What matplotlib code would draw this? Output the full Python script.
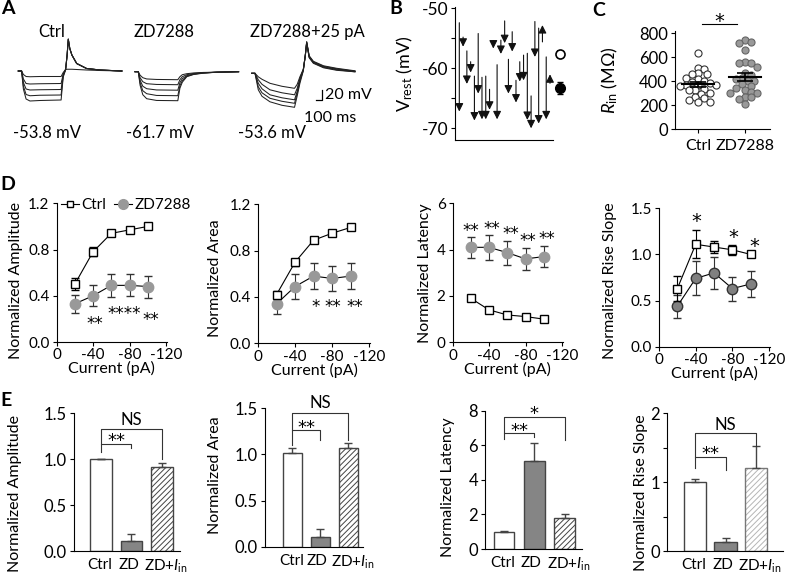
import matplotlib
matplotlib.use("Agg")
import matplotlib.pyplot as plt
from matplotlib.lines import Line2D

plt.rcParams['font.family'] = ['Lato', 'DejaVu Sans']
plt.rcParams['axes.unicode_minus'] = False
plt.rcParams['mathtext.fontset'] = 'custom'
plt.rcParams['mathtext.rm'] = 'Lato'
plt.rcParams['mathtext.it'] = 'Lato:italic'
plt.rcParams['axes.linewidth'] = 0.8
plt.rcParams['xtick.major.width'] = 0.8
plt.rcParams['ytick.major.width'] = 0.8
plt.rcParams['ytick.minor.width'] = 0.8
plt.rcParams['xtick.major.size'] = 3
plt.rcParams['ytick.major.size'] = 3
plt.rcParams['ytick.minor.size'] = 3
plt.rcParams['xtick.major.pad'] = 1.5
plt.rcParams['ytick.major.pad'] = 2
plt.rcParams['hatch.linewidth'] = 0.7

# ---------------- data ----------------
# A: voltage traces (ms, mV relative to rest)
ctrl_t = [0, 55, 85, 130, 195, 360, 715, 750, 790, 815, 835, 860, 895, 975, 1140, 1365, 1730]
ctrl_v = [
    [0, 0, -7, -11, -11.5, -11, -11, -3, 3, 3.5, 3.5, 3.5, 3.5, 3, 2, 1, 0],
    [0, 0, -16, -25, -26, -25.5, -25, -6, 3, 30, 63, 45, 32, 15, 5, 2, 0],
    [0, 0, -23, -36, -38, -37.5, -37, -8, 3, 31, 63, 45, 32, 15, 5, 2, 0],
    [0, 0, -30, -47, -49.5, -48.5, -48, -10, 3, 32, 64, 45, 32, 15, 5, 2, 0],
    [0, 0, -36, -56, -60, -59, -58, -12, 2, 32, 64, 45, 32, 15, 5, 2, 0],
]
zd_t = [0, 55, 85, 130, 195, 360, 715, 750, 790, 865, 980, 1140, 1365, 1730]
zd_v = [
    [0, 0, -7, -12, -14.5, -15.5, -16, -10, -6, -4, -2.5, -1.5, -1, 0],
    [0, 0, -12, -20, -24, -25.5, -26, -16, -10, -6, -3.5, -2, -1, 0],
    [0, 0, -17, -29, -34, -36.5, -37, -22, -14, -8, -4.5, -2.5, -1, 0],
    [0, 0, -22, -38, -44, -47.5, -48, -28, -18, -9, -5, -2.5, -1, 0],
    [0, 0, -27, -46, -54, -57.5, -58, -33, -21, -10, -5.5, -3, -1, 0],
]
zp_t = [0, 55, 110, 172, 305, 506, 715, 760, 805, 862, 895, 918, 960, 1030, 1200, 1420, 1725]
zp_v = [
    [0, 0, -7, -12, -20, -26, -30, -22, -7, 8, 35, 60, 31, 20, 11, 6, 3],
    [0, 0, -13, -22, -33, -39, -43, -30, -10, 8, 35, 61, 32, 21, 12, 7, 3],
    [0, 0, -20, -31, -43, -49, -53, -36, -13, 7, 36, 62, 33, 22, 13, 8, 4],
    [0, 0, -27, -39, -50, -56, -60, -40, -16, 6, 36, 63, 34, 23, 14, 9, 4],
    [0, 0, -33, -46, -57, -64, -68, -45, -20, 5, 36, 63, 35, 24, 15, 10, 5],
]
trace_titles = ['Ctrl', 'ZD7288', 'ZD7288+25 pA']
rest_labels = ['-53.8 mV', '-61.7 mV', '-53.6 mV']

# B: resting potential, ctrl -> ZD7288 per cell (mV)
b_ctrl = [-52.4, -54.8, -57.1, -58.9, -61.3, -54.2, -61.5, -61.3, -63.5, -55.4, -59.4, -55.3, -52.1,
          -58.5, -53.9, -62.0, -58.9, -57.8, -57.5, -64.6, -52.2, -53.3, -55.6, -58.1, -62.5]
b_zd = [-67.2, -56.4, -62.6, -60.7, -68.7, -64.2, -68.5, -68.5, -66.9, -56.7, -68.5, -57.6, -55.8,
        -64.2, -57.2, -65.7, -62.2, -62.0, -68.6, -70.0, -58.1, -69.2, -52.8, -68.5, -61.0]
b_mean = [-57.6, -63.2]
b_sem = [0.5, 1.0]

# C: input resistance (MOhm)
c_ctrl = [633, 513, 500, 467, 461, 461, 430, 418, 400, 397, 385, 372, 368, 365, 360,
          335, 330, 328, 300, 296, 265, 258, 240, 230, 225]
c_zd = [744, 730, 716, 661, 563, 555, 550, 522, 467, 452, 425, 417, 405, 405, 377,
        361, 342, 327, 313, 305, 305, 267, 267, 250, 211]
c_groups = ['Ctrl', 'ZD7288']

# D: current steps
d_x = [-20, -40, -60, -80, -100]
amp_ctrl = [0.50, 0.78, 0.94, 0.97, 1.00]
amp_ctrl_err = [0.05, 0.04, 0.015, 0.015, 0.0]
amp_zd = [0.33, 0.40, 0.49, 0.49, 0.48]
amp_zd_err = [0.08, 0.09, 0.10, 0.095, 0.095]
area_ctrl = [0.42, 0.70, 0.89, 0.95, 1.00]
area_ctrl_err = [0.03, 0.03, 0.01, 0.01, 0.0]
area_zd = [0.34, 0.49, 0.58, 0.56, 0.58]
area_zd_err = [0.09, 0.11, 0.11, 0.11, 0.11]
lat_ctrl = [1.90, 1.40, 1.18, 1.11, 1.00]
lat_ctrl_err = [0.05, 0.06, 0.05, 0.04, 0.0]
lat_zd = [4.10, 4.10, 3.87, 3.60, 3.70]
lat_zd_err = [0.45, 0.53, 0.52, 0.47, 0.45]
rise_ctrl = [0.63, 1.11, 1.08, 1.05, 1.00]
rise_ctrl_err = [0.14, 0.15, 0.065, 0.055, 0.0]
rise_zd = [0.44, 0.74, 0.80, 0.63, 0.68]
rise_zd_err = [0.125, 0.185, 0.17, 0.13, 0.14]

# E: bars
e_groups = ['Ctrl', 'ZD', 'ZD+$\\mathit{I}_{\\mathrm{in}}$']
e_amp = [1.00, 0.11, 0.92]
e_amp_err = [0.005, 0.08, 0.04]
e_area = [1.02, 0.11, 1.07]
e_area_err = [0.05, 0.08, 0.05]
e_lat = [1.00, 5.11, 1.77]
e_lat_err = [0.05, 1.00, 0.25]
e_rise = [1.00, 0.13, 1.21]
e_rise_err = [0.05, 0.06, 0.31]

# ---------------- figure ----------------
W, H = 785, 576
fig = plt.figure(figsize=(7.85, 5.76), dpi=100)


def box(x0, y0, x1, y1):
    return fig.add_axes([x0 / W, 1 - y1 / H, (x1 - x0) / W, (y1 - y0) / H])


def ftext(x, y, s, **kw):
    fig.text(x / W, 1 - y / H, s, **kw)


def clean(ax):
    ax.spines['top'].set_visible(False)
    ax.spines['right'].set_visible(False)


def star(ax, x, y, s, size=12):
    # asterisks sit high in the glyph box, so pull the text down a little
    ax.annotate(s, (x, y), xytext=(0, -size * 0.24), textcoords='offset points', ha='center',
                va='center', fontsize=size, family='DejaVu Sans', annotation_clip=False)


FS = 11.5      # axis labels
TS = 11        # D tick labels
for lab, x, y in [('A', 1, 9), ('B', 389, 9), ('C', 592, 10), ('D', 0, 184), ('E', 0, 400)]:
    ftext(x, y, lab, fontsize=14, fontweight='bold', va='center')

# ---- A ----
axA = box(15, 30, 362, 125)
axA.axis('off')
axA.set_xlim(-55, 5740)
axA.set_ylim(-106, 84)
for tt, sets, t0, dv in [(ctrl_t, ctrl_v, 0, 2), (zd_t, zd_v, 1949, 0.6), (zp_t, zp_v, 3898, -2.6)]:
    for v in sets:
        axA.plot([t + t0 for t in tt], [a + dv for a in v], color='#222', lw=0.75)
axA.plot([4967, 5067, 5067], [-56, -56, -36], color='k', lw=0.9)
ftext(325, 95, '20 mV', fontsize=11.5, va='center')
ftext(304, 118, '100 ms', fontsize=11.5, va='center')
for x, s in zip([52, 164, 307], trace_titles):
    ftext(x, 32, s, fontsize=12, ha='center', va='center')
for x, s in zip([47, 160, 272], rest_labels):
    ftext(x, 133, s, fontsize=12, ha='center', va='center')

# ---- B ----
axB = box(455, 7, 567, 140)
clean(axB)
axB.set_ylim(-71.95, -49.78)
axB.set_xlim(-0.14, 29.5)
axB.spines['bottom'].set_bounds(-0.14, 25.9)
axB.set_xticks([])
axB.set_yticks([-70, -60, -50])
axB.set_yticks([-65, -55], minor=True)
axB.tick_params(labelsize=12.5)
for i, (a, b) in enumerate(zip(b_ctrl, b_zd)):
    axB.annotate('', xy=(i + 1, b), xytext=(i + 1, a),
                 arrowprops=dict(arrowstyle='-|>', color='#111', lw=0.8,
                                 mutation_scale=12, shrinkA=0, shrinkB=0))
axB.errorbar([27.6], [b_mean[0]], yerr=[b_sem[0]], fmt='o', mfc='w', mec='k',
             ms=6.5, color='k', capsize=2.5, lw=0.8, mew=1.2)
axB.errorbar([27.6], [b_mean[1]], yerr=[b_sem[1]], fmt='o', mfc='k', mec='k',
             ms=7, color='k', capsize=2.5, lw=0.8)
axB.set_ylabel('$\\mathregular{V_{rest}}$ (mV)', fontsize=13)
axB.yaxis.set_label_coords(-0.36, 0.5)


# ---- C ----
def swarm_offsets(vals, unit_px, val_px, diam=6.0):
    placed = []
    offs = []
    for v in vals:
        y = v * val_px
        cands = [0]
        for k in range(1, 15):
            cands += [k * diam * 0.5, -k * diam * 0.5]
        for x in cands:
            if all((x - a) ** 2 + (y - b) ** 2 >= diam ** 2 * 0.8 for a, b in placed):
                break
        placed.append((x, y))
        offs.append(x / unit_px)
    return offs


axC = box(675, 31, 782, 129.3)
clean(axC)
axC.set_ylim(0, 819)
axC.set_xlim(-0.49, 1.79)
axC.spines['bottom'].set_bounds(-0.49, 1.53)
axC.set_yticks([0, 200, 400, 600, 800])
axC.set_xticks([0, 1])
axC.set_xticklabels(c_groups)
axC.tick_params(axis='y', labelsize=12)
axC.tick_params(axis='x', labelsize=11.5, pad=4)
for i, (vals, fc, ec) in enumerate([(c_ctrl, 'w', '#333'), (c_zd, '#999', '#666')]):
    offs = swarm_offsets(vals, 47, 24 / 200)
    axC.scatter([i + o for o in offs], vals, s=26, facecolor=fc, edgecolor=ec, lw=0.8, zorder=2)
    m = sum(vals) / len(vals)
    sd = (sum((v - m) ** 2 for v in vals) / (len(vals) - 1)) ** 0.5
    sem = sd / len(vals) ** 0.5
    axC.plot([i - 0.35, i + 0.35], [m, m], color='k', lw=1.5, zorder=3)
    axC.errorbar([i], [m], yerr=[sem], fmt='none', ecolor='k', capsize=6, lw=1.2, capthick=1.2, zorder=3)
axC.plot([0.09, 0.83], [877, 877], color='k', lw=0.8, clip_on=False)
star(axC, 0.46, 935, '*', size=14)
axC.set_ylabel('$\\mathit{R}_{\\mathrm{in}}$ (M\u03a9)', fontsize=13)
axC.yaxis.set_label_coords(-0.51, 0.5)


# ---- D ----
def dpanel(box_px, yc, ycerr, yz, yzerr, ylim, yticks, ylabel, lab_xy, zcol='#999', zedge='#999'):
    ax = box(*box_px)
    clean(ax)
    ax.set_xlim(0, -121)
    ax.set_ylim(*ylim)
    ax.set_xticks([0, -40, -80, -120])
    ax.set_yticks(yticks)
    ax.tick_params(labelsize=TS)
    ax.errorbar(d_x, yz, yerr=yzerr, color='k', ecolor='#333', lw=0.8, elinewidth=0.8,
                capsize=3, marker='o', ms=7.5, mfc=zcol, mec=zedge, zorder=2)
    ax.errorbar(d_x, yc, yerr=ycerr, color='k', ecolor='k', lw=0.8, elinewidth=0.8,
                capsize=3, marker='s', ms=5.5, mfc='w', mec='k', zorder=3)
    ax.set_xlabel('Current (pA)', fontsize=FS)
    ax.xaxis.set_label_coords(0.5, -0.14)
    ax.set_ylabel(ylabel, fontsize=FS)
    ax.yaxis.set_label_coords(*lab_xy)
    return ax


axD1 = dpanel((56.5, 203.3, 167, 342), amp_ctrl, amp_ctrl_err, amp_zd, amp_zd_err,
              (0, 1.2), [0, 0.4, 0.8, 1.2], 'Normalized Amplitude', (-0.30, 0.44))
axD1.set_yticklabels(['0.0', '0.4', '0.8', '1.2'])
for x, y, s in [(-42, 0.193, '**'), (-74, 0.279, '****'), (-103, 0.222, '**')]:
    star(axD1, x, y, s)
h1 = Line2D([], [], color='k', lw=0.8, marker='s', ms=5, mfc='w', mec='k')
h2 = Line2D([], [], color='k', lw=0.8, marker='o', ms=7, mfc='#999', mec='#999')
axD1.legend([h1, h2], ['Ctrl', 'ZD7288'], ncol=2, frameon=False, fontsize=11,
            loc='center left', bbox_to_anchor=(0.04, 0.985), handlelength=1.2,
            handletextpad=0.15, columnspacing=0.5, borderpad=0, borderaxespad=0)

axD2 = dpanel((258, 204.3, 370, 343.3), area_ctrl, area_ctrl_err, area_zd, area_zd_err,
              (0, 1.2), [0, 0.4, 0.8, 1.2], 'Normalized Area', (-0.32, 0.47))
axD2.set_yticklabels(['0.0', '0.4', '0.8', '1.2'])
for x, y, s in [(-62, 0.345, '*'), (-80.5, 0.345, '**'), (-104.5, 0.345, '**')]:
    star(axD2, x, y, s)

axD3 = dpanel((452.5, 203.3, 563, 342.3), lat_ctrl, lat_ctrl_err, lat_zd, lat_zd_err,
              (0, 6), [0, 2, 4, 6], 'Normalized Latency', (-0.185, 0.5))
for x, y, s in [(-20, 4.99, '**'), (-43.5, 5.06, '**'), (-64, 4.85, '**'), (-82, 4.56, '**'), (-103, 4.63, '**')]:
    star(axD3, x, y, s)

axD4 = dpanel((659, 208.3, 770, 346.7), rise_ctrl, rise_ctrl_err, rise_zd, rise_zd_err,
              (0, 1.5), [0, 0.5, 1.0, 1.5], 'Normalized Rise Slope', (-0.38, 0.48),
              zcol='#808080', zedge='#333')
axD4.set_yticklabels(['0.0', '0.5', '1.0', '1.5'])
for x, y, s in [(-40.8, 1.41, '*'), (-81.5, 1.23, '*'), (-103.7, 1.14, '*')]:
    star(axD4, x, y, s, size=14)


# ---- E ----
def epanel(box_px, vals, errs, xlim, width, ylim, yticks, ylabel, lab_xy, brackets, light_hatch=False):
    ax = box(*box_px)
    clean(ax)
    ax.set_xlim(*xlim)
    ax.set_ylim(*ylim)
    xs = [0, 1, 2]
    ax.bar(0, vals[0], width, color='w', edgecolor='#444', lw=1.0)
    ax.bar(1, vals[1], width, color='#858585', edgecolor='#444', lw=1.0)
    if light_hatch:
        ax.bar(2, vals[2], width, color='w', edgecolor='#b5b5b5', hatch='//////', lw=0)
        ax.bar(2, vals[2], width, color='none', edgecolor='#777', lw=1.0)
    else:
        ax.bar(2, vals[2], width, color='w', edgecolor='#444', hatch='//////', lw=1.0)
    ax.errorbar(xs, vals, yerr=[[0, 0, 0], errs], fmt='none', ecolor='#444',
                elinewidth=1.0, capsize=3, capthick=1.0)
    ax.set_xticks([])
    for x, s, dx in zip(xs, e_groups, [-1, -3, 4]):
        ax.annotate(s, (x, 0), xycoords=ax.get_xaxis_transform(), xytext=(dx * 0.72, -5),
                    textcoords='offset points', ha='center', va='top', fontsize=11)
    ax.tick_params(axis='y', labelsize=12)
    ax.set_yticks(yticks)
    ax.set_ylabel(ylabel, fontsize=FS)
    ax.yaxis.set_label_coords(*lab_xy)
    for x1, top, yl, yr, s, ty in brackets:
        ax.plot([0, 0, x1, x1], [yl, top, top, yr], color='#333', lw=0.8, clip_on=False)
        if s == 'NS':
            ax.text(x1 / 2, ty, s, fontsize=12, ha='center', va='center')
        else:
            star(ax, x1 / 2, ty, s, size=13)
    return ax


axE1 = epanel((74, 413.3, 180, 551), e_amp, e_amp_err, (-0.885, 2.59), 0.72, (0, 1.5),
              [0, 0.5, 1.0, 1.5], 'Normalized Amplitude', (-0.49, 0.42),
              [(1, 1.166, 1.08, 1.12, '**', 1.246), (2, 1.325, 1.166, 1.0, 'NS', 1.427)])
axE1.set_yticklabels(['0.0', '0.5', '1.0', '1.5'])
axE2 = epanel((265, 408.3, 363, 546.7), e_area, e_area_err, (-0.98, 2.52), 0.65, (0, 1.5),
              [0, 0.5, 1.0, 1.5], 'Normalized Area', (-0.44, 0.52),
              [(1, 1.265, 1.10, 1.157, '**', 1.337), (2, 1.446, 1.265, 1.157, 'NS', 1.554)])
axE2.set_yticklabels(['0.0', '0.5', '1.0', '1.5'])
axE3 = epanel((485, 410.7, 582, 549), e_lat, e_lat_err, (-0.63, 2.57), 0.68, (0, 8),
              [0, 2, 4, 6, 8], 'Normalized Latency', (-0.31, 0.45),
              [(1, 6.69, 6.34, 6.5, '**', 7.07), (2, 7.65, 6.69, 6.3, '*', 8.04)])
axE4 = epanel((666.7, 413.3, 783, 551), e_rise, e_rise_err, (-0.93, 2.88), 0.74, (0, 2),
              [0, 1, 2], 'Normalized Rise Slope', (-0.16, 0.42),
              [(1, 1.37, 1.20, 1.18, '**', 1.47), (2, 1.71, 1.37, 1.52, 'NS', 1.83)],
              light_hatch=True)
axE4.set_yticks([0.5, 1.5], minor=True)

fig.savefig('out.png', dpi=100)
